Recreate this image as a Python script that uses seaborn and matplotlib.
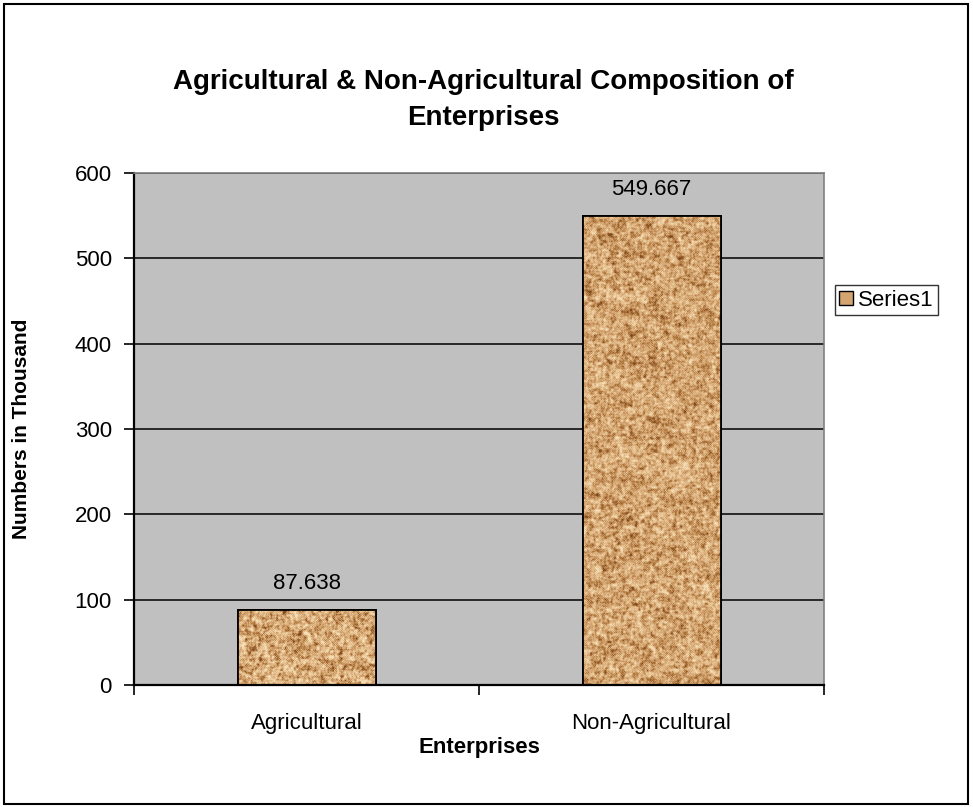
import numpy as np
import pandas as pd
import seaborn as sns
import matplotlib.pyplot as plt
from matplotlib.colors import LinearSegmentedColormap
from matplotlib.patches import Patch, Rectangle

# chart data
categories = ['Agricultural', 'Non-Agricultural']
values = [87.638, 549.667]
value_labels = ['87.638', '549.667']
y_ticks = [0, 100, 200, 300, 400, 500, 600]

df = pd.DataFrame({'Enterprises': categories, 'Numbers': values})

sns.set_style('white')
plt.rcParams['font.family'] = ['Liberation Sans', 'DejaVu Sans']
plt.rcParams['text.color'] = 'black'
plt.rcParams['axes.labelcolor'] = 'black'
plt.rcParams['xtick.color'] = 'black'
plt.rcParams['ytick.color'] = 'black'

fig = plt.figure(figsize=(9.73, 8.07), dpi=100)
ax = fig.add_axes([134 / 973, 1 - 685 / 807, 690 / 973, 512 / 807])

tan = '#d3a470'
sns.barplot(data=df, x='Enterprises', y='Numbers', color=tan, width=0.4,
            saturation=1, edgecolor='black', linewidth=1.3, ax=ax, zorder=2)

ax.set_facecolor('#c0c0c0')
ax.set_xlim(-0.5, 1.5)
ax.set_ylim(0, 600)
ax.set_yticks(y_ticks)
ax.yaxis.grid(True, color='black', linewidth=1.1)
ax.set_axisbelow(True)

# granite-like texture on the bars (deterministic hash noise, styling only)
granite = LinearSegmentedColormap.from_list(
    'granite', ['#7c4820', '#b07840', '#d3a470', '#e8c494', '#f6deb6'])


def hash_noise(h, w, seed):
    i, j = np.mgrid[0:h, 0:w]
    v = np.sin(i * 12.9898 + j * 78.233 + seed * 3.17) * 43758.5453
    return v - np.floor(v)


def blur(a, n):
    for _ in range(n):
        a = (a + np.roll(a, 1, 0) + np.roll(a, -1, 0) + np.roll(a, 1, 1) + np.roll(a, -1, 1)) / 5
    return a


fig.canvas.draw()
for k, bar in enumerate(ax.patches):
    x0, y0 = bar.get_x(), bar.get_y()
    x1, y1 = x0 + bar.get_width(), y0 + bar.get_height()
    (px0, py0), (px1, py1) = ax.transData.transform([(x0, y0), (x1, y1)])
    w = max(int(px1 - px0), 4)
    h = max(int(py1 - py0), 4)
    fine = blur(hash_noise(h, w, k + 1), 1)
    mid = blur(hash_noise(h, w, k + 11), 4)
    big = blur(hash_noise(h, w, k + 23), 12)
    tex = 0.5 * (fine - fine.mean()) / fine.std() + 0.35 * (mid - mid.mean()) / mid.std() \
        + 0.25 * (big - big.mean()) / big.std()
    tex = (tex - tex.min()) / (tex.max() - tex.min())
    im = ax.imshow(tex, cmap=granite, extent=(x0, x1, y0, y1), aspect='auto',
                   interpolation='nearest', zorder=2.5, vmin=0.1, vmax=0.85)
    im.set_clip_path(bar)
    ax.add_patch(Rectangle((x0, y0), x1 - x0, y1 - y0, fill=False,
                           edgecolor='black', linewidth=1.3, zorder=3))
    ax.annotate(value_labels[k], (bar.get_x() + bar.get_width() / 2, y1),
                xytext=(0, 19), textcoords='offset points', ha='center',
                va='center', fontsize=16)

ax.set_xlim(-0.5, 1.5)
ax.set_ylim(0, 600)

# category ticks at boundaries, labels centred
ax.set_xticks([-0.5, 0.5, 1.5])
ax.set_xticklabels([])
ax.set_xticks([0, 1], minor=True)
ax.set_xticklabels(categories, minor=True, fontsize=16)
ax.tick_params(axis='x', which='major', direction='out', length=7, width=1.2,
               bottom=True)
ax.tick_params(axis='x', which='minor', length=0, pad=20)
ax.tick_params(axis='y', direction='out', length=7, width=1.2,
               left=True, pad=9, labelsize=16)

for side in ['left', 'bottom']:
    ax.spines[side].set_color('black')
    ax.spines[side].set_linewidth(1.6)
for side in ['top', 'right']:
    ax.spines[side].set_color('#808080')
    ax.spines[side].set_linewidth(1.2)

ax.set_xlabel('Enterprises', fontsize=16, fontweight='bold', labelpad=2)
ax.set_ylabel('Numbers in Thousand', fontsize=15, fontweight='bold', labelpad=31)

fig.text(483 / 973, 1 - 100 / 807,
         'Agricultural & Non-Agricultural Composition of\nEnterprises',
         ha='center', va='center', fontsize=20, fontweight='bold', linespacing=1.5)

fig.legend(handles=[Patch(facecolor=tan, edgecolor='black', label='Series1')],
           loc='center left', bbox_to_anchor=(835 / 973, 1 - 300 / 807),
           fontsize=16, frameon=True, fancybox=False, edgecolor='black',
           handlelength=0.6, handleheight=0.6, handletextpad=0.25,
           borderpad=0.2, borderaxespad=0)

fig.patches.append(Rectangle((4 / 973, 3 / 807), 964 / 973, 800 / 807,
                             transform=fig.transFigure, fill=False,
                             edgecolor='black', linewidth=1.5))

fig.savefig('out.png', dpi=100, facecolor='white')
